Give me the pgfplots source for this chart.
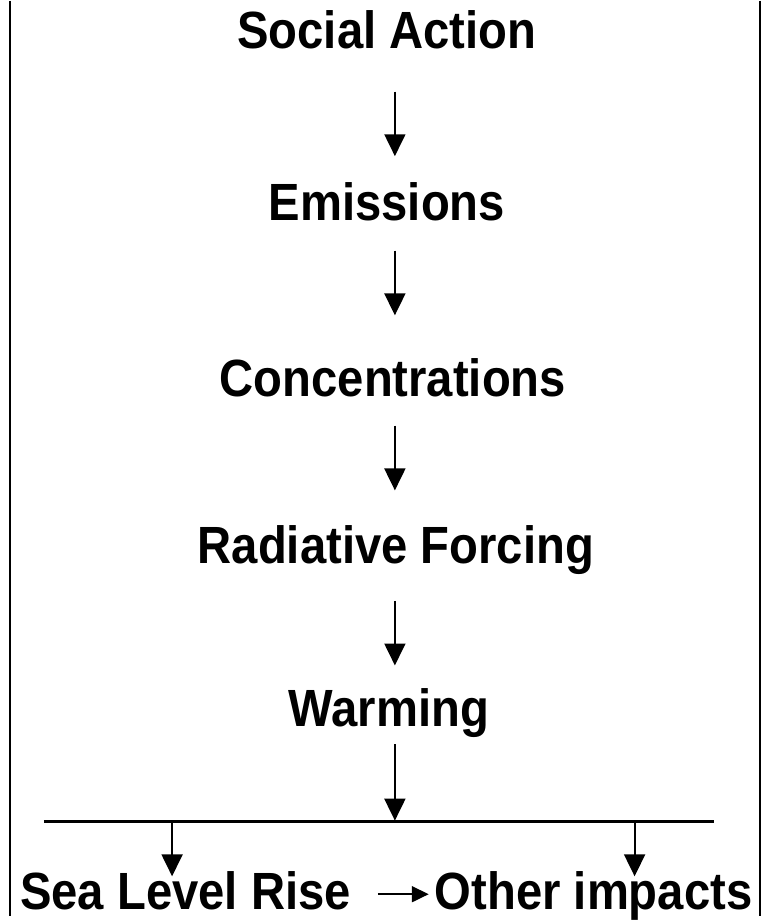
\documentclass[border=0pt]{standalone}
\usepackage{pgfplots}
\pgfplotsset{compat=1.18}
\usepackage{fontspec}
\setmainfont{Liberation Sans}
\usetikzlibrary{arrows.meta}
\newcommand{\lbl}[1]{\scalebox{1.01}[1.12]{\fontsize{47}{50}\selectfont\bfseries #1}}
\begin{document}
\begin{tikzpicture}
\begin{axis}[
  width=767pt, height=920pt, scale only axis,
  xmin=0, xmax=767, ymin=0, ymax=920, y dir=reverse,
  hide axis, clip=false,
  arr/.style={black, line width=2pt, -{Triangle[length=22pt,width=21pt]}},
]
% frame
\addplot[black, line width=2pt] coordinates {(10,0) (10,920)};
\addplot[black, line width=2pt] coordinates {(764,0) (764,920)};
% vertical arrows
\addplot[arr] coordinates {(397,91) (397,156)};
\addplot[arr] coordinates {(397,251) (397,316)};
\addplot[arr] coordinates {(397,427) (397,492)};
\addplot[arr] coordinates {(397,603) (397,668)};
\addplot[arr] coordinates {(397,747) (397,824)};
% branch line
\addplot[black, line width=2.4pt] coordinates {(44,825) (718,825)};
\addplot[arr] coordinates {(173,825) (173,880)};
\addplot[arr] coordinates {(638,825) (638,880)};
% small horizontal arrow
\addplot[black, line width=2pt, -{Triangle[length=17pt,width=16pt]}] coordinates {(380,898) (431,898)};
% labels
\node[anchor=base] at (axis cs:389,48) {\lbl{Social Action}};
\node[anchor=base] at (axis cs:389,221) {\lbl{Emissions}};
\node[anchor=base] at (axis cs:395,398) {\lbl{Concentrations}};
\node[anchor=base] at (axis cs:398,566) {\lbl{Radiative Forcing}};
\node[anchor=base] at (axis cs:391,729) {\lbl{Warming}};
\node[anchor=base west, inner sep=0pt] at (axis cs:20,913) {\lbl{Sea Level Rise}};
\node[anchor=base west, inner sep=0pt] at (axis cs:437,913) {\lbl{Other impacts}};
\path (axis cs:0,0) rectangle (axis cs:767,920);
\end{axis}
\end{tikzpicture}
\end{document}
